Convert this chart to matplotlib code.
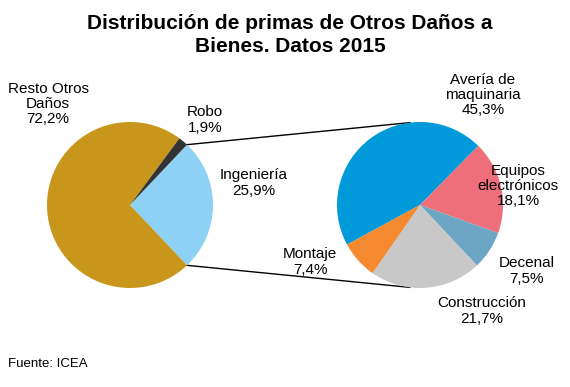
import matplotlib
matplotlib.use("Agg")
import matplotlib.pyplot as plt
import numpy as np

plt.rcParams['font.family'] = ['Liberation Sans', 'DejaVu Sans']

# Data
main_labels = ["Ingeniería", "Resto Otros\nDaños", "Robo"]
main_values = [25.9, 72.2, 1.9]
main_colors = ["#8DD1F4", "#C8961A", "#333333"]

sub_labels = ["Avería de\nmaquinaria", "Equipos\nelectrónicos", "Decenal", "Construcción", "Montaje"]
sub_values = [45.3, 18.1, 7.5, 21.7, 7.4]
sub_colors = ["#0099DA", "#EE6E7A", "#6CA6C4", "#C8C8C8", "#F5892F"]

title = "Distribución de primas de Otros Daños a\nBienes. Datos 2015"
source = "Fuente: ICEA"

W, H = 570, 387
fig = plt.figure(figsize=(W / 100, H / 100), dpi=100)
ax = fig.add_axes([0, 0, 1, 1])

def py(y):
    return H - y

c1 = (130, py(205)); r1 = 83
c2 = (420, py(205)); r2 = 83

start1 = main_values[0] / 100 * 360 / 2
ax.pie(main_values, colors=main_colors, center=c1, radius=r1, startangle=start1,
       counterclock=False, wedgeprops=dict(linewidth=0))
start2 = 208.5
ax.pie(sub_values, colors=sub_colors, center=c2, radius=r2, startangle=start2,
       counterclock=False, wedgeprops=dict(linewidth=0))

ax.set_xlim(0, W)
ax.set_ylim(0, H)
ax.set_aspect('equal')
ax.axis('off')

# connector lines
a_top = np.deg2rad(start1)
p1t = (c1[0] + r1 * np.cos(a_top), c1[1] + r1 * np.sin(a_top))
p1b = (c1[0] + r1 * np.cos(-a_top), c1[1] + r1 * np.sin(-a_top))
a2t, a2b = np.deg2rad(97), np.deg2rad(-97)
p2t = (c2[0] + r2 * np.cos(a2t), c2[1] + r2 * np.sin(a2t))
p2b = (c2[0] + r2 * np.cos(a2b), c2[1] + r2 * np.sin(a2b))
ax.plot([p1t[0], p2t[0]], [p1t[1], p2t[1]], color="#000000", lw=1.0, zorder=0)
ax.plot([p1b[0], p2b[0]], [p1b[1], p2b[1]], color="#000000", lw=1.0, zorder=0)

def pct(v):
    return f"{v:.1f}%".replace(".", ",")

fs = 11
main_pos = [(254, 183), (48, 104), (205, 120)]
for lab, v, (x, y) in zip(main_labels, main_values, main_pos):
    ax.text(x, py(y), f"{lab}\n{pct(v)}", ha='center', va='center', fontsize=fs,
            linespacing=1.12)

sub_pos = [(483, 95), (518, 186), (527, 271), (482, 311), (310, 262)]
for lab, v, (x, y) in zip(sub_labels, sub_values, sub_pos):
    ax.text(x, py(y), f"{lab}\n{pct(v)}", ha='center', va='center', fontsize=fs,
            linespacing=1.12)

ax.text(290, py(35), title, ha='center', va='center', fontsize=15,
        fontweight='bold', linespacing=1.25)
ax.text(8, py(364), source, ha='left', va='center', fontsize=9.5)

fig.savefig("out.png", dpi=100)
